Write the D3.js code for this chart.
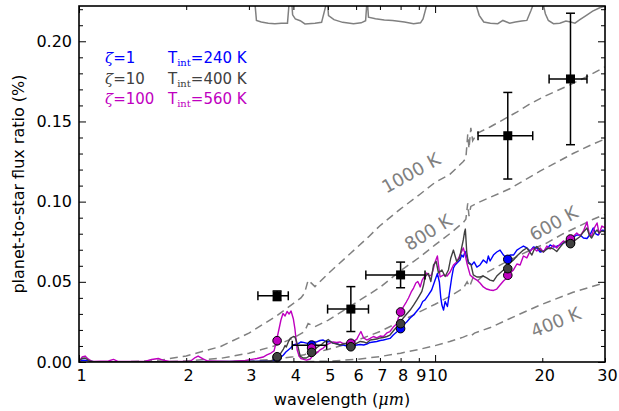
<!DOCTYPE html>
<html><head><meta charset="utf-8">
<script src="https://cdn.jsdelivr.net/npm/d3@7"></script>
<style>
body{margin:0;background:#fff}
svg{display:block}
text{font-family:"DejaVu Sans",sans-serif}
</style>
</head><body>
<svg id="c" width="619" height="411"></svg>
<script>
// ---------------- data ----------------
const xTicksMajor = [1, 10];
const xTicksMinor = [2, 3, 4, 5, 6, 7, 8, 9, 20, 30];
const yTicksMajor = [0, 0.05, 0.10, 0.15, 0.20];
const yTicksMinor = [0.01,0.02,0.03,0.04,0.06,0.07,0.08,0.09,0.11,0.12,0.13,0.14,0.16,0.17,0.18,0.19,0.21,0.22];

const blueWave = [1.00,1.02,1.05,1.10,2.0,3.0,3.45,3.59,3.67,3.75,3.81,3.87,3.94,4.00,4.07,4.13,4.20,4.27,4.35,4.46,4.55,4.65,4.75,4.85,4.95,5.07,5.17,5.29,5.41,5.52,5.65,5.77,5.90,6.03,6.16,6.30,6.43,6.57,6.71,6.86,7.01,7.16,7.32,7.47,7.63,7.80,7.97,8.14,8.32,8.51,8.70,8.89,9.08,9.23,9.37,9.58,9.78,10.0,10.15,10.28,10.37,10.45,10.56,10.67,10.83,10.97,11.14,11.26,11.38,11.63,11.75,11.87,12.0,12.14,12.4,12.67,12.87,13.1,13.37,13.66,13.96,14.11,14.27,14.58,14.9,15.22,15.56,15.9,16.24,16.6,16.97,17.33,17.7,18.1,18.49,18.89,19.3,19.72,20.15,20.6,21.04,21.5,21.96,22.45,22.93,23.4,23.95,24.5,25.0,25.55,26.1,26.7,27.3,27.8,28.3,28.7,29.2,29.6,30.0];
const blueFlux = [0.0003,0.0012,0.0010,0.0002,0.0002,0.0003,0.0006,0.0012,0.0025,0.0044,0.0062,0.0075,0.0090,0.0106,0.0112,0.0115,0.0125,0.0122,0.0118,0.0112,0.0125,0.0125,0.0134,0.0137,0.0125,0.0128,0.0118,0.0115,0.0106,0.0106,0.0100,0.0097,0.0103,0.0106,0.0109,0.0106,0.0112,0.0122,0.0125,0.0128,0.0134,0.0137,0.0143,0.0147,0.0168,0.0187,0.0209,0.0231,0.0249,0.0274,0.0293,0.0318,0.0343,0.0377,0.0387,0.0418,0.0449,0.0511,0.0552,0.0499,0.0405,0.0355,0.0324,0.0377,0.0346,0.0430,0.0530,0.0586,0.0605,0.0627,0.0636,0.0667,0.0655,0.0689,0.0624,0.0605,0.0624,0.0592,0.0605,0.0636,0.0617,0.0661,0.0630,0.0667,0.0686,0.0698,0.0667,0.0645,0.0667,0.0667,0.0698,0.0711,0.0723,0.0711,0.0692,0.0717,0.0711,0.0686,0.0692,0.0705,0.0730,0.0717,0.0723,0.0730,0.0742,0.0751,0.0761,0.0780,0.0792,0.0792,0.0773,0.0770,0.0798,0.0836,0.0798,0.0792,0.0817,0.0823,0.0811];

const grayWave = [1.00,1.02,1.04,1.07,1.10,2.0,3.0,3.44,3.59,3.64,3.71,3.75,3.79,3.82,3.87,3.92,4.00,4.04,4.07,4.13,4.18,4.26,4.35,4.46,4.51,4.60,4.70,4.80,4.85,4.93,5.01,5.10,5.17,5.29,5.41,5.52,5.65,5.77,5.90,6.03,6.16,6.30,6.43,6.57,6.71,6.86,7.01,7.16,7.32,7.47,7.63,7.80,7.97,8.14,8.32,8.51,8.70,8.89,9.02,9.18,9.28,9.37,9.47,9.58,9.73,9.90,10.07,10.22,10.45,10.67,10.9,11.07,11.26,11.38,11.5,11.7,11.87,12.0,12.1,12.16,12.27,12.4,12.62,12.8,13.1,13.37,13.66,13.96,14.27,14.58,14.9,15.22,15.56,15.9,16.24,16.6,16.97,17.33,17.7,18.1,18.37,18.7,19.0,19.3,19.72,20.15,20.6,21.04,21.5,21.96,22.45,22.93,23.4,23.95,24.5,25.0,25.55,26.1,26.7,27.1,27.5,28.0,28.5,28.9,29.4,30.0];
const grayFlux = [0.0006,0.0022,0.0025,0.0006,0.0002,0.0002,0.0003,0.0006,0.0022,0.0037,0.0065,0.0081,0.0103,0.0094,0.0125,0.0147,0.0159,0.0156,0.0137,0.0087,0.0037,0.0025,0.0025,0.0041,0.0065,0.0081,0.0097,0.0109,0.0118,0.0131,0.0140,0.0125,0.0118,0.0112,0.0106,0.0112,0.0115,0.0106,0.0106,0.0118,0.0128,0.0125,0.0118,0.0137,0.0140,0.0143,0.0150,0.0153,0.0159,0.0168,0.0193,0.0218,0.0249,0.0274,0.0299,0.0324,0.0355,0.0387,0.0411,0.0440,0.0480,0.0530,0.0543,0.0552,0.0502,0.0605,0.0627,0.0555,0.0574,0.0533,0.0574,0.0649,0.0698,0.0661,0.0627,0.0645,0.0711,0.0761,0.0811,0.0829,0.0686,0.0617,0.0605,0.0543,0.0530,0.0530,0.0536,0.0524,0.0511,0.0505,0.0536,0.0555,0.0574,0.0596,0.0617,0.0636,0.0661,0.0680,0.0698,0.0711,0.0692,0.0667,0.0705,0.0720,0.0698,0.0686,0.0705,0.0711,0.0705,0.0689,0.0717,0.0742,0.0758,0.0755,0.0751,0.0767,0.0783,0.0811,0.0836,0.0792,0.0773,0.0804,0.0823,0.0804,0.0817,0.0811];

const magentaWave = [1.00,1.02,1.04,1.06,1.09,1.21,1.25,1.29,1.53,1.60,1.67,1.72,1.80,2.05,2.12,2.16,2.23,2.30,2.65,2.93,3.16,3.29,3.37,3.46,3.53,3.58,3.65,3.69,3.74,3.79,3.84,3.89,3.94,4.00,4.04,4.10,4.15,4.20,4.35,4.46,4.55,4.65,4.75,4.85,4.95,5.07,5.17,5.29,5.41,5.52,5.65,5.77,5.90,6.03,6.09,6.19,6.30,6.43,6.57,6.71,6.86,7.01,7.16,7.32,7.47,7.63,7.80,7.88,7.97,8.14,8.30,8.42,8.57,8.70,8.83,8.94,9.04,9.08,9.20,9.28,9.37,9.47,9.62,9.78,9.90,10.0,10.15,10.23,10.33,10.56,10.8,11.02,11.26,11.5,11.75,12.0,12.14,12.3,12.54,12.8,13.1,13.37,13.66,13.96,14.27,14.58,14.9,15.22,15.56,15.9,16.24,16.6,16.97,17.33,17.7,18.1,18.49,18.89,19.3,19.72,20.15,20.6,21.04,21.5,21.96,22.45,22.93,23.4,23.95,24.5,25.0,25.55,26.1,26.7,27.1,27.5,28.0,28.5,28.9,29.4,30.0];
const magentaFlux = [0.0003,0.0031,0.0037,0.0019,0.0003,0.0006,0.0016,0.0003,0.0003,0.0016,0.0022,0.0012,0.0003,0.0003,0.0028,0.0037,0.0019,0.0006,0.0003,0.0009,0.0022,0.0031,0.0044,0.0056,0.0069,0.0125,0.0212,0.0262,0.0302,0.0287,0.0315,0.0299,0.0318,0.0268,0.0206,0.0075,0.0037,0.0022,0.0012,0.0019,0.0044,0.0056,0.0075,0.0087,0.0106,0.0118,0.0125,0.0122,0.0125,0.0115,0.0118,0.0125,0.0128,0.0143,0.0162,0.0190,0.0150,0.0137,0.0147,0.0159,0.0150,0.0162,0.0159,0.0181,0.0190,0.0218,0.0237,0.0274,0.0293,0.0343,0.0374,0.0399,0.0437,0.0461,0.0493,0.0502,0.0480,0.0468,0.0511,0.0524,0.0536,0.0555,0.0536,0.0543,0.0586,0.0624,0.0661,0.0599,0.0530,0.0543,0.0536,0.0561,0.0605,0.0624,0.0667,0.0711,0.0673,0.0611,0.0543,0.0524,0.0511,0.0493,0.0468,0.0455,0.0449,0.0446,0.0455,0.0480,0.0505,0.0524,0.0555,0.0574,0.0611,0.0605,0.0661,0.0649,0.0692,0.0711,0.0692,0.0711,0.0686,0.0723,0.0705,0.0730,0.0711,0.0736,0.0755,0.0742,0.0773,0.0786,0.0804,0.0786,0.0817,0.0873,0.0798,0.0786,0.0836,0.0867,0.0798,0.0848,0.0836];

// blackbody reference curves
const bb1000Wave = [1.4,1.7,2.0,2.5,3.0,3.6,4.2,4.3,4.4,4.5,4.6,5.0,5.8,6.5,7.0,8.0,9.0,10,11,11.5,12,12.2,12.35,12.45,12.6,12.75,13.1,14.3,15.5,17,18.5,20,24,26.7,30];
const bb1000Flux = [0.0003,0.0012,0.0038,0.0097,0.018,0.029,0.040,0.043,0.051,0.049,0.047,0.055,0.068,0.078,0.085,0.0955,0.104,0.112,0.117,0.121,0.125,0.127,0.142,0.133,0.146,0.138,0.1425,0.1467,0.151,0.156,0.161,0.165,0.173,0.178,0.184];
const bb800Wave = [1.8,2.0,2.5,3.0,3.6,4.0,4.3,4.4,4.6,5.0,5.8,7.0,8.0,9.0,10,11,12,12.2,12.35,12.45,12.6,13.4,16.2,19.7,24.4,27.8,30];
const bb800Flux = [0.0003,0.0007,0.0023,0.0055,0.0105,0.015,0.019,0.024,0.022,0.026,0.035,0.0465,0.057,0.065,0.073,0.080,0.087,0.089,0.099,0.091,0.097,0.100,0.108,0.119,0.130,0.136,0.139];
const bb600Wave = [2.5,3.0,3.6,4.0,4.3,4.4,4.6,5.0,5.8,7.0,8.0,9.0,10,11,12,12.3,12.5,12.8,13.2,14,16,18.8,20.5,22.9,25.5,27.8,30];
const bb600Flux = [0.0001,0.0005,0.0019,0.0033,0.0045,0.0060,0.0058,0.0078,0.012,0.019,0.0253,0.031,0.036,0.041,0.046,0.050,0.047,0.053,0.051,0.056,0.063,0.0705,0.074,0.080,0.085,0.089,0.092];
const bb400Wave = [4.0,5.0,6.0,7.0,8.0,9.0,10,11,12,12.4,12.6,12.9,14.3,16,19.7,24.4,30];
const bb400Flux = [0.0001,0.0005,0.0016,0.0034,0.0055,0.0078,0.0102,0.0128,0.0155,0.0168,0.0162,0.0180,0.0215,0.0265,0.0355,0.0435,0.0495];
const bbLabels = ["1000 K", "800 K", "600 K", "400 K"];

// band response profiles drawn along the top
const filterWave = [3.12,3.15,3.25,3.4,3.55,3.7,3.85,3.89,3.96,3.98,4.05,4.18,4.31,4.6,4.8,4.95,4.99,5.02,5.2,5.5,5.9,6.2,6.38,6.43,6.46,6.5,6.8,7.2,7.6,8.2,8.7,9.1,9.25,9.5,13.0,13.3,13.7,14.3,15.0,15.5,16.2,16.8,17.5,18.1,18.6,18.9,20.1,20.4,20.8,21.5,22.4,23.3,24.0,24.7,25.5,26.6,27.7,29.0,30.0];
const filterFlux = [0.2235,0.2130,0.2120,0.2113,0.2110,0.2112,0.2113,0.2235,0.2235,0.2165,0.2140,0.2128,0.2108,0.2112,0.2118,0.2235,0.2235,0.2160,0.2135,0.2118,0.2110,0.2115,0.2128,0.2235,0.2235,0.2150,0.2140,0.2132,0.2130,0.2120,0.2110,0.2115,0.2140,0.2235,0.2235,0.2162,0.2120,0.2113,0.2110,0.2130,0.2113,0.2120,0.2126,0.2130,0.2193,0.2235,0.2235,0.2172,0.2130,0.2110,0.2113,0.2126,0.2120,0.2113,0.2135,0.2162,0.2188,0.2209,0.2218];

// observed eclipse depths
const obsWave = [3.6, 4.5, 5.8, 8.0, 16.0, 24.0];
const obsLo = [3.18, 3.97, 4.99, 6.39, 13.2, 20.9];
const obsHi = [3.87, 4.96, 6.50, 9.37, 18.8, 26.7];
const obsDepth = [0.0413, 0.0105, 0.033, 0.0543, 0.1411, 0.1765];
const obsErr = [0.003, 0, 0.014, 0.008, 0.027, 0.041];
const obsHasMarker = [true, false, true, true, true, true];

// band-integrated model points
const bandWave = [3.6, 4.5, 5.8, 8.0, 16.0, 24.0];
const bandBlue = [0.0028, 0.0106, 0.0100, 0.0208, 0.0640, 0.0745];
const bandMagenta = [0.0133, 0.0087, 0.0117, 0.0312, 0.0541, 0.0767];
const bandGray = [0.0033, 0.0060, 0.0095, 0.0239, 0.0582, 0.0738];

const legendZeta = ["1", "10", "100"];
const legendTint = ["240", "400", "560"];

// ---------------- drawing ----------------
const COL = {blue:"#0000ff", gray:"#404040", mag:"#bf00bf", ref:"#808080"};
const L = 79, R = 605, T = 6, B = 362;
const x = d3.scaleLog().domain([1, 30]).range([L, R]);
const y = d3.scaleLinear().domain([0, 0.222]).range([B, T]);
const svg = d3.select("#c");
svg.append("defs").append("clipPath").attr("id", "clip")
  .append("rect").attr("x", L).attr("y", T).attr("width", R - L).attr("height", B - T);
const plot = svg.append("g").attr("clip-path", "url(#clip)");
const line = d3.line().x(d => x(d[0])).y(d => y(d[1]));
const zip = (a, b) => a.map((v, i) => [v, b[i]]);

// blackbody curves
[[bb1000Wave, bb1000Flux], [bb800Wave, bb800Flux], [bb600Wave, bb600Flux], [bb400Wave, bb400Flux]].forEach(([w, f]) => {
  plot.append("path").attr("d", line(zip(w, f))).attr("fill", "none")
    .attr("stroke", COL.ref).attr("stroke-width", 1.5).attr("stroke-dasharray", "8,5");
});
// filter profiles
plot.append("path").attr("d", line(zip(filterWave, filterFlux))).attr("fill", "none")
  .attr("stroke", COL.ref).attr("stroke-width", 1.5);

// spectra
[[blueWave, blueFlux, COL.blue], [magentaWave, magentaFlux, COL.mag], [grayWave, grayFlux, COL.gray]].forEach(([w, f, c]) => {
  plot.append("path").attr("d", line(zip(w, f))).attr("fill", "none")
    .attr("stroke", c).attr("stroke-width", 1.4).attr("stroke-linejoin", "round");
});

// BB labels
const bbLabelPos = [[1000, 8.55, 0.118, -29], [800, 9.55, 0.081, -32], [600, 21.5, 0.0865, -29], [400, 21.8, 0.025, -22]];
bbLabelPos.forEach((p, i) => {
  svg.append("text").attr("transform", `translate(${x(p[1])},${y(p[2])}) rotate(${p[3]})`)
    .attr("text-anchor", "middle").attr("dominant-baseline", "central")
    .attr("font-size", 18).attr("fill", COL.ref).text(bbLabels[i]);
});

// observations: error bars
const eb = svg.append("g").attr("stroke", "#000").attr("stroke-width", 1.5);
obsWave.forEach((w, i) => {
  const cy = y(obsDepth[i]);
  eb.append("line").attr("x1", x(obsLo[i])).attr("x2", x(obsHi[i])).attr("y1", cy).attr("y2", cy);
  eb.append("line").attr("x1", x(obsLo[i])).attr("x2", x(obsLo[i])).attr("y1", cy - 4.5).attr("y2", cy + 4.5);
  eb.append("line").attr("x1", x(obsHi[i])).attr("x2", x(obsHi[i])).attr("y1", cy - 4.5).attr("y2", cy + 4.5);
  if (obsErr[i] > 0) {
    const y1 = y(obsDepth[i] + obsErr[i]), y2 = y(obsDepth[i] - obsErr[i]);
    eb.append("line").attr("x1", x(w)).attr("x2", x(w)).attr("y1", y1).attr("y2", y2);
    eb.append("line").attr("x1", x(w) - 4.5).attr("x2", x(w) + 4.5).attr("y1", y1).attr("y2", y1);
    eb.append("line").attr("x1", x(w) - 4.5).attr("x2", x(w) + 4.5).attr("y1", y2).attr("y2", y2);
  }
});
obsWave.forEach((w, i) => {
  if (!obsHasMarker[i]) return;
  svg.append("rect").attr("x", x(w) - 4.5).attr("y", y(obsDepth[i]) - 4.5)
    .attr("width", 9).attr("height", 9).attr("fill", "#000");
});

// band model points
[[bandBlue, COL.blue], [bandMagenta, COL.mag], [bandGray, COL.gray]].forEach(([v, c]) => {
  svg.append("g").selectAll("circle").data(zip(bandWave, v)).join("circle")
    .attr("cx", d => x(d[0])).attr("cy", d => y(d[1])).attr("r", 4.3)
    .attr("fill", c).attr("stroke", "#000").attr("stroke-width", 1);
});

// axes
function styleAxis(g) {
  g.select(".domain").remove();
  g.selectAll(".tick line").attr("stroke", "#000").attr("stroke-width", 1);
  g.selectAll("text").attr("font-size", 16).attr("fill", "#000").attr("font-family", "DejaVu Sans");
}
const fmtX = d => String(d);
const bx1 = svg.append("g").attr("transform", `translate(0,${B})`)
  .call(d3.axisBottom(x).tickValues(xTicksMajor).tickSize(-7).tickPadding(7.5).tickFormat(fmtX)).call(styleAxis);
const bx2 = svg.append("g").attr("transform", `translate(0,${B})`)
  .call(d3.axisBottom(x).tickValues(xTicksMinor).tickSize(-4).tickPadding(7.5).tickFormat(fmtX)).call(styleAxis);
bx1.selectAll("text").attr("dx", 2);
bx2.selectAll("text").attr("dx", 2);
svg.append("g").attr("transform", `translate(0,${T})`)
  .call(d3.axisTop(x).tickValues(xTicksMajor).tickSize(-7).tickFormat("")).call(styleAxis);
svg.append("g").attr("transform", `translate(0,${T})`)
  .call(d3.axisTop(x).tickValues(xTicksMinor).tickSize(-4).tickFormat("")).call(styleAxis);
svg.append("g").attr("transform", `translate(${L},0)`)
  .call(d3.axisLeft(y).tickValues(yTicksMajor).tickSize(-7).tickPadding(7).tickFormat(d3.format(".2f"))).call(styleAxis);
svg.append("g").attr("transform", `translate(${L},0)`)
  .call(d3.axisLeft(y).tickValues(yTicksMinor).tickSize(-4).tickFormat("")).call(styleAxis);
svg.append("g").attr("transform", `translate(${R},0)`)
  .call(d3.axisRight(y).tickValues(yTicksMajor).tickSize(-7).tickFormat("")).call(styleAxis);
svg.append("g").attr("transform", `translate(${R},0)`)
  .call(d3.axisRight(y).tickValues(yTicksMinor).tickSize(-4).tickFormat("")).call(styleAxis);

// frame
svg.append("rect").attr("x", L).attr("y", T).attr("width", R - L).attr("height", B - T)
  .attr("fill", "none").attr("stroke", "#000").attr("stroke-width", 1.6);

// axis titles
const xt = svg.append("text").attr("x", (L + R) / 2).attr("y", 405).attr("text-anchor", "middle").attr("font-size", 16);
xt.append("tspan").text("wavelength (");
xt.append("tspan").attr("font-family", "DejaVu Serif").attr("font-style", "italic").text("μm");
xt.append("tspan").text(")");
svg.append("text").attr("transform", `translate(23.5,${(T + B) / 2}) rotate(-90)`)
  .attr("text-anchor", "middle").attr("font-size", 16).text("planet-to-star flux ratio (%)");

// legend
const legCols = [COL.blue, COL.gray, COL.mag];
legendZeta.forEach((z, i) => {
  const by = 62.7 + i * 20.8;
  const t1 = svg.append("text").attr("x", 105).attr("y", by).attr("font-size", 15).attr("fill", legCols[i]);
  t1.append("tspan").attr("font-family", "DejaVu Serif").attr("font-style", "italic").text("ζ");
  t1.append("tspan").text("=" + z);
  const t2 = svg.append("text").attr("x", 168).attr("y", by).attr("font-size", 15).attr("fill", legCols[i]);
  t2.append("tspan").text("T");
  t2.append("tspan").attr("font-family", "DejaVu Serif").attr("font-size", 10).attr("dy", 3).text("int");
  t2.append("tspan").attr("dy", -3).text("=" + legendTint[i] + " K");
});
</script>
</body></html>
